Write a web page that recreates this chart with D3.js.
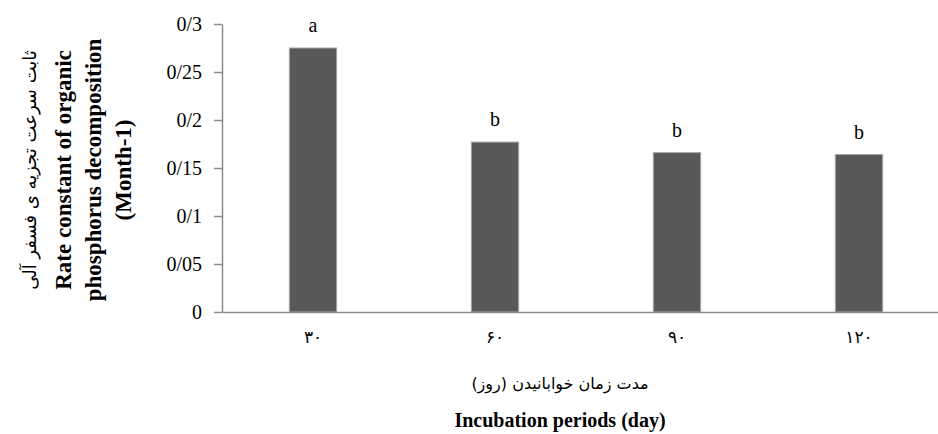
<!DOCTYPE html>
<html>
<head>
<meta charset="utf-8">
<script src="https://cdn.jsdelivr.net/npm/d3@7"></script>
<style>
  body { margin: 0; background: #fff; }
  svg { display: block; }
</style>
</head>
<body>
<div id="chart"></div>
<script>
// data
var periods = ["۳۰", "۶۰", "۹۰", "۱۲۰"];
var rates = [0.275, 0.177, 0.166, 0.164];
var letters = ["a", "b", "b", "b"];
var yTicks = [0, 0.05, 0.1, 0.15, 0.2, 0.25, 0.3];
var yTickLabels = ["0", "0/05", "0/1", "0/15", "0/2", "0/25", "0/3"];

var W = 938, H = 434;
var svg = d3.select("#chart").append("svg")
    .attr("width", W)
    .attr("height", H);

var plotLeft = 222, plotBottom = 312, plotTop = 24;

var x = d3.scaleBand()
    .domain(periods)
    .range([plotLeft, plotLeft + 4 * 182])
    .paddingInner(0.74)
    .paddingOuter(0.37);

var y = d3.scaleLinear()
    .domain([0, 0.3])
    .range([plotBottom, plotTop]);

// y axis
var yAxis = svg.append("g")
    .attr("transform", "translate(" + plotLeft + ",0)")
    .call(d3.axisLeft(y).tickValues(yTicks)
        .tickFormat(function(d, i) { return yTickLabels[i]; })
        .tickSize(8).tickSizeOuter(0).tickPadding(12));
yAxis.select(".domain").attr("stroke", "#8c8c8c").attr("stroke-width", 1.5);
yAxis.selectAll(".tick line").attr("stroke", "#8c8c8c").attr("stroke-width", 1.5);
yAxis.selectAll(".tick text")
    .attr("font-family", "Liberation Serif, serif")
    .attr("font-size", 20)
    .attr("fill", "#000");

// bars
svg.append("g")
    .selectAll("rect")
    .data(rates)
    .enter()
    .append("rect")
        .attr("x", function(d, i) { return x(periods[i]); })
        .attr("y", function(d) { return y(d); })
        .attr("width", x.bandwidth())
        .attr("height", function(d) { return plotBottom - y(d); })
        .attr("fill", "#595959")
        .attr("stroke", "#a6a6a6")
        .attr("stroke-width", 1);

// x axis
var xAxis = svg.append("g")
    .attr("transform", "translate(0," + plotBottom + ")")
    .call(d3.axisBottom(x).tickSize(0).tickSizeOuter(0).tickPadding(19));
xAxis.select(".domain").attr("stroke", "#8c8c8c").attr("stroke-width", 1.5);
xAxis.selectAll(".tick text")
    .attr("font-family", "DejaVu Sans, sans-serif")
    .attr("font-size", 17)
    .attr("fill", "#000");

// significance letters
svg.append("g")
    .selectAll("text")
    .data(letters)
    .enter()
    .append("text")
        .attr("x", function(d, i) { return x(periods[i]) + x.bandwidth() / 2; })
        .attr("y", function(d, i) { return y(rates[i]) - 16; })
        .attr("text-anchor", "middle")
        .attr("font-family", "Liberation Serif, serif")
        .attr("font-size", 20)
        .text(function(d) { return d; });

// x axis titles
svg.append("text")
    .attr("x", 560).attr("y", 389)
    .attr("text-anchor", "middle")
    .attr("font-family", "DejaVu Sans, sans-serif")
    .attr("font-size", 16)
    .attr("direction", "rtl")
    .text("مدت زمان خوابانیدن (روز)");

svg.append("text")
    .attr("x", 560).attr("y", 427)
    .attr("text-anchor", "middle")
    .attr("font-family", "Liberation Serif, serif")
    .attr("font-weight", "bold")
    .attr("font-size", 20)
    .text("Incubation periods (day)");

// y axis titles
var yTitle = svg.append("g").attr("transform", "translate(0,170) rotate(-90)");
yTitle.append("text")
    .attr("x", 0).attr("y", 36)
    .attr("text-anchor", "middle")
    .attr("font-family", "DejaVu Sans, sans-serif")
    .attr("font-size", 18)
    .attr("direction", "rtl")
    .text("ثابت سرعت تجزیه ی فسفر آلی");
var enLines = ["Rate constant of organic", "phosphorus decomposition", "(Month-1)"];
yTitle.selectAll(".en")
    .data(enLines)
    .enter()
    .append("text")
        .attr("class", "en")
        .attr("x", 0)
        .attr("y", function(d, i) { return 71 + i * 30; })
        .attr("text-anchor", "middle")
        .attr("font-family", "Liberation Serif, serif")
        .attr("font-weight", "bold")
        .attr("font-size", 23)
        .text(function(d) { return d; });
</script>
</body>
</html>
